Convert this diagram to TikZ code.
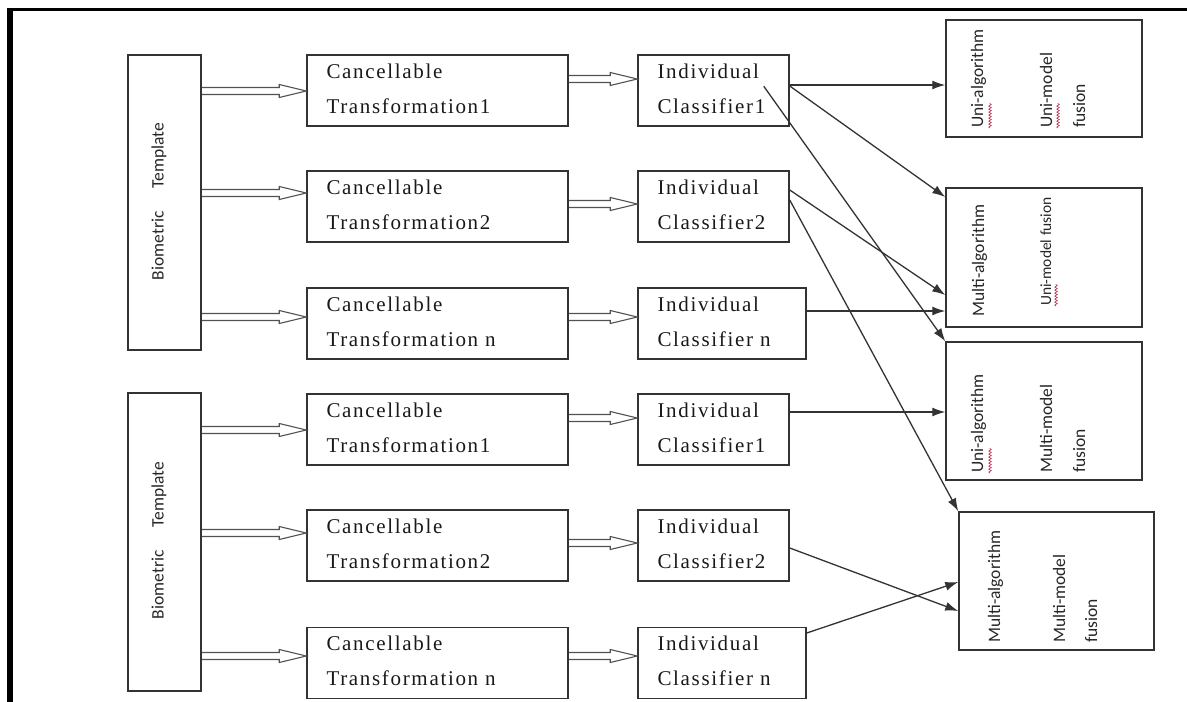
\documentclass[tikz,border=0pt]{standalone}
\usepackage{fontspec}
\newfontfamily\labelserif[LetterSpace=8]{Liberation Serif}
\newfontfamily\labelsans{Carlito}
\usetikzlibrary{arrows.meta,calc,decorations.pathmorphing}
\definecolor{ink}{HTML}{333333}
\definecolor{spell}{RGB}{190,60,90}
\newcommand{\twolines}[2]{\mbox{#1}\\\mbox{#2}\rule[-4pt]{0pt}{4pt}}
\tikzset{
  box/.style={draw=ink, line width=1.5pt, rectangle, inner sep=0pt},
  stage/.style={box, minimum height=71pt, text width=#1, inner xsep=19.5pt,
    align=left, font=\fontsize{21}{35}\selectfont\labelserif, text=black!90},
  tmpl/.style={box, minimum width=73pt},
  fusionbox/.style={box, minimum width=196pt},
  vlabel/.style={rotate=90, anchor=base west, inner sep=0pt,
    font=\fontsize{17.5}{17.5}\selectfont\labelsans, text=black!85},
  tmpltext/.style={rotate=90, inner sep=0pt,
    font=\fontsize{17.5}{17.5}\selectfont\labelsans, text=black!85},
  feed/.style={draw=ink, line width=1.3pt, -{Latex[length=13pt,width=9pt]}},
  dblarrow/.style={draw=ink!85, line width=1.1pt,
    to path={let \p1=(\tikztostart), \p2=(\tikztotarget) in
      (\x1,\y1+3.5pt) -- (\x2-27pt,\y1+3.5pt) -- (\x2-27pt,\y1+6.5pt)
      -- (\x2,\y1) -- (\x2-27pt,\y1-6.5pt) -- (\x2-27pt,\y1-3.5pt)
      -- (\x1,\y1-3.5pt)}},
  spellmark/.style={draw=spell, line width=0.7pt, decorate,
    decoration={snake, amplitude=1.2pt, segment length=3pt}}
}
\begin{document}
\begin{tikzpicture}[x=1pt, y=-1pt]
\useasboundingbox (0,0) rectangle (1187,702);

% page frame (left and top edges)
\fill[black] (7,8) rectangle (13,702);
\fill[black] (7,8) rectangle (1187,11);

% biometric templates
\node[tmpl, minimum height=295pt] (BT1) at (164.5,202.5) {};
\node[tmpl, minimum height=298pt] (BT2) at (164.5,542) {};
\node[tmpltext] (BT1t) at (159,201.5) {Biometric\hspace{23pt}Template};
\node[tmpltext] (BT2t) at (159,540.5) {Biometric\hspace{23pt}Template};

% cancellable transformations
\node[stage=222pt] (CT1) at (437.5,90.5)  {\twolines{Cancellable}{Transformation1}};
\node[stage=222pt] (CT2) at (437.5,206.5) {\twolines{Cancellable}{Transformation2}};
\node[stage=222pt] (CT3) at (437.5,323.5) {\twolines{Cancellable}{Transformation n}};
\node[stage=222pt] (CT4) at (437.5,429.5) {\twolines{Cancellable}{Transformation1}};
\node[stage=222pt] (CT5) at (437.5,545.5) {\twolines{Cancellable}{Transformation2}};
\node[stage=222pt] (CT6) at (437.5,663)   {\twolines{Cancellable}{Transformation n}};

% individual classifiers
\node[stage=112pt] (IC1) at (713.5,90.5)  {\twolines{Individual}{Classifier1}};
\node[stage=112pt] (IC2) at (713.5,206.5) {\twolines{Individual}{Classifier2}};
\node[stage=129pt] (IC3) at (722,323.5)   {\twolines{Individual}{Classifier n}};
\node[stage=112pt] (IC4) at (713.5,429.5) {\twolines{Individual}{Classifier1}};
\node[stage=112pt] (IC5) at (713.5,545.5) {\twolines{Individual}{Classifier2}};
\node[stage=129pt] (IC6) at (722,663)     {\twolines{Individual}{Classifier n}};

% fusion boxes
\node[fusionbox, minimum height=117pt] (FA) at (1044,78.5) {};
\node[fusionbox, minimum height=139pt] (FB) at (1044,257.5) {};
\node[fusionbox, minimum height=138pt] (FC) at (1044,411) {};
\node[fusionbox, minimum width=195pt, minimum height=138pt] (FD) at (1056.5,581) {};

\node[vlabel] (FA1) at (983,128) {Uni-algorithm};
\node[vlabel] (FA2) at (1052,128) {Uni-model};
\node[vlabel] (FA3) at (1085,128) {fusion};
\node[vlabel] (FB1) at (984,317) {Multi-algorithm};
\node[vlabel, font=\fontsize{15.5}{15.5}\selectfont\labelsans] (FB2) at (1051,306) {Uni-model fusion};
\node[vlabel] (FC1) at (983,473) {Uni-algorithm};
\node[vlabel] (FC2) at (1052,473) {Multi-model};
\node[vlabel] (FC3) at (1085,473) {fusion};
\node[vlabel] (FD1) at (1000,643) {Multi-algorithm};
\node[vlabel] (FD2) at (1065,643) {Multi-model};
\node[vlabel] (FD3) at (1097,643) {fusion};

% spell-check underlines
\draw[spellmark] (990,128) -- (990,103);
\draw[spellmark] (1058,128) -- (1058,103);
\draw[spellmark] (1056,306) -- (1056,284);
\draw[spellmark] (990,473) -- (990,448);

% template -> transformation
\draw[dblarrow] (BT1.east |- 0,91)  to (CT1.west |- 0,91);
\draw[dblarrow] (BT1.east |- 0,193) to (CT2.west |- 0,193);
\draw[dblarrow] (BT1.east |- 0,317) to (CT3.west |- 0,317);
\draw[dblarrow] (BT2.east |- 0,430) to (CT4.west |- 0,430);
\draw[dblarrow] (BT2.east |- 0,533) to (CT5.west |- 0,533);
\draw[dblarrow] (BT2.east |- 0,656) to (CT6.west |- 0,656);

% transformation -> classifier
\draw[dblarrow] (CT1.east |- 0,79)  to (IC1.west |- 0,79);
\draw[dblarrow] (CT2.east |- 0,204) to (IC2.west |- 0,204);
\draw[dblarrow] (CT3.east |- 0,317) to (IC3.west |- 0,317);
\draw[dblarrow] (CT4.east |- 0,418) to (IC4.west |- 0,418);
\draw[dblarrow] (CT5.east |- 0,543) to (IC5.west |- 0,543);
\draw[dblarrow] (CT6.east |- 0,656) to (IC6.west |- 0,656);

% classifier -> fusion
\coordinate (c3s) at ($(IC1.north east)+(-26,32)$);
\draw[feed] (IC1.east |- 0,85)  -- (FA.west |- 0,85);
\draw[feed] (IC1.east |- 0,86)  -- (FB.west |- 0,197);
\draw[feed] (c3s) -- (FC.north west);
\draw[feed] (IC2.east |- 0,190) -- (FB.west |- 0,295);
\draw[feed] (IC2.east |- 0,200) -- (FD.north west);
\draw[feed] (IC3.east |- 0,311) -- (FB.west |- 0,311);
\draw[feed] (IC4.east |- 0,412) -- (FC.west |- 0,412);
\draw[feed] (IC5.east |- 0,548) -- (FD.west |- 0,611);
\draw[feed] (IC6.east |- 0,633) -- (FD.west |- 0,582);
\end{tikzpicture}
\end{document}
